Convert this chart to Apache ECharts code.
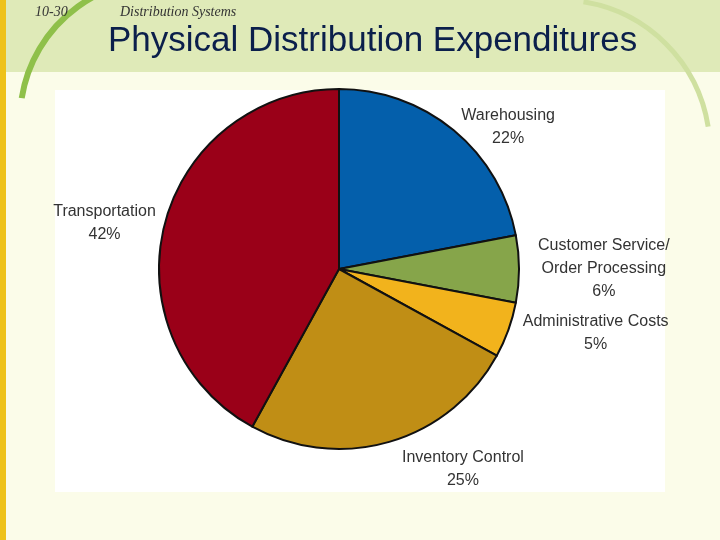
<!DOCTYPE html>
<html>
<head>
<meta charset="utf-8">
<script src="https://cdn.jsdelivr.net/npm/echarts@6/dist/echarts.min.js"></script>
<style>html,body{margin:0;padding:0;}#chart{width:720px;height:540px;}</style>
</head>
<body>
<div id="chart"></div>
<script>
var categories = ['Warehousing', 'Customer Service/\nOrder Processing', 'Administrative Costs', 'Inventory Control', 'Transportation'];
var shares = [22, 6, 5, 25, 42];
var colors = ['#045fab', '#86a54a', '#f2b31c', '#c08e15', '#9a0018'];
var labelGaps = [4, 14, 10, 28, 4];

var chart = echarts.init(document.getElementById('chart'));
chart.setOption({
  backgroundColor: '#fbfce9',
  graphic: [
    { type: 'rect', shape: { x: 0, y: 0, width: 720, height: 72 }, style: { fill: '#dfeab8' }, z: -10 },
    { type: 'rect', shape: { x: 0, y: 0, width: 6, height: 540 }, style: { fill: '#eec21a' }, z: -5 },
    { type: 'arc', shape: { cx: 160, cy: 120, r: 140, startAngle: Math.PI * 1.05, endAngle: Math.PI * 1.6 }, style: { stroke: '#8fc04a', lineWidth: 6, fill: null }, z: -4 },
    { type: 'arc', shape: { cx: 560, cy: 150, r: 150, startAngle: Math.PI * 1.55, endAngle: Math.PI * 1.95 }, style: { stroke: '#cfe0a0', lineWidth: 5, fill: null }, z: -4 },
    { type: 'rect', shape: { x: 55, y: 90, width: 610, height: 402 }, style: { fill: '#ffffff' }, z: -3 },
    { type: 'text', left: 35, top: 5, style: { text: '10-30', font: 'italic 14px "Liberation Serif"', fill: '#333' } },
    { type: 'text', left: 120, top: 5, style: { text: 'Distribution Systems', font: 'italic 14px "Liberation Serif"', fill: '#333' } },
    { type: 'text', left: 108, top: 24, style: { text: 'Physical Distribution Expenditures', font: '35px "Liberation Sans"', fill: '#0b1f4b', shadowColor: 'rgba(0,0,0,0.35)', shadowOffsetX: 2, shadowOffsetY: 2, shadowBlur: 1 } }
  ],
  series: [{
    type: 'pie',
    center: [339, 269],
    radius: 180,
    startAngle: 90,
    clockwise: true,
    animation: false,
    color: colors,
    itemStyle: { borderColor: '#111', borderWidth: 2 },
    labelLine: { show: false, length: 6, length2: 0 },
    label: {
      position: 'outside',
      formatter: function (p) {
        return p.name.split('\n').concat([p.value + '%']).map(function (s) { return '{a|' + s + '}'; }).join('\n');
      },
      rich: { a: { align: 'center', fontFamily: '"Liberation Sans"', fontSize: 16, lineHeight: 23, color: '#333' } }
    },
    data: categories.map(function (c, i) {
      return { name: c, value: shares[i], labelLine: { length: labelGaps[i], length2: 0 } };
    })
  }]
});
</script>
</body>
</html>
